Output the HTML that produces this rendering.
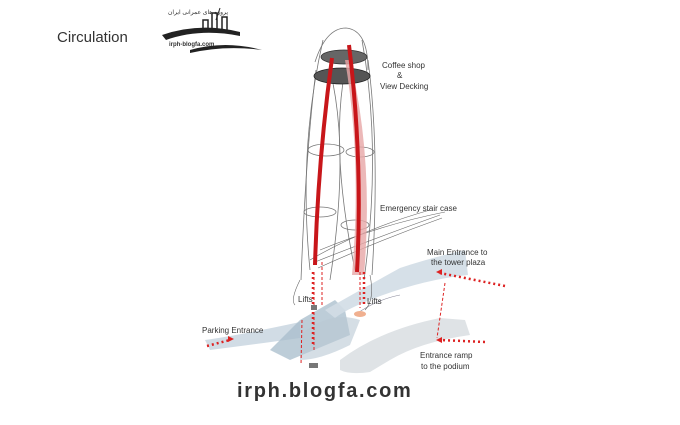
<!DOCTYPE html>
<html><head><meta charset="utf-8"><style>
body{margin:0;background:#fff}
svg{display:block}
text{font-family:"Liberation Sans",sans-serif;fill:#333}
</style></head><body>
<svg width="680" height="425" viewBox="0 0 680 425" xmlns="http://www.w3.org/2000/svg">
<text x="57" y="42" font-size="15" fill="#222">Circulation</text>
<g>
<path d="M162 35 Q200 22 240 32 L240 36 Q200 28 166 40 Z" fill="#222"/>
<path d="M190 50 Q225 40 262 50 Q225 45 190 53Z" fill="#222"/>
<rect x="203" y="20" width="5" height="10" fill="none" stroke="#222" stroke-width="1.5"/>
<rect x="212" y="13" width="5" height="17" fill="none" stroke="#222" stroke-width="1.5"/>
<rect x="222" y="17" width="5" height="14" fill="none" stroke="#222" stroke-width="1.5"/>
<line x1="220" y1="8" x2="216" y2="20" stroke="#222"/>
<text x="168" y="14" font-size="6" fill="#833">پروژه های عمرانی ایران</text>
<text x="169" y="46" font-size="6" fill="#833" font-weight="bold">irph-blogfa.com</text>
</g>
<path d="M205 340 Q240 335 300 322 L300 338 Q250 345 210 350Z" fill="#c9d6e0" opacity=".85"/>
<path d="M300 320 L335 300 L345 310 L350 335 L290 360 L270 350 Z" fill="#a7bccb" opacity=".75"/>
<path d="M325 310 Q360 290 400 268 Q430 258 465 250 L468 275 Q420 280 370 300 Q345 310 335 318 Z" fill="#d2dde5" opacity=".9"/>
<path d="M340 360 Q380 330 440 318 L465 320 L470 335 Q420 342 390 360 L370 372 Q350 375 340 370Z" fill="#dfe3e6"/>
<path d="M300 335 Q330 310 360 320 L350 345 Q320 360 300 360Z" fill="#b9c8d3" opacity=".6"/>
<path d="M355 315 Q375 300 400 295" fill="none" stroke="#889" stroke-width=".6"/>
<g fill="none" stroke="#777" stroke-width=".8">
<path d="M316 70 Q306 150 301 280"/><path d="M368 60 Q380 150 372 275"/>
<path d="M323 40 Q298 150 310 270"/><path d="M362 40 Q382 150 364 280"/>
<path d="M330 70 Q350 150 330 280"/><path d="M345 70 Q330 150 355 270"/>
<path d="M315 62 Q326 28 346 28 Q368 30 368 70"/>
<ellipse cx="326" cy="150" rx="18" ry="6"/><ellipse cx="360" cy="152" rx="14" ry="5"/>
<ellipse cx="320" cy="212" rx="16" ry="5"/><ellipse cx="355" cy="225" rx="14" ry="5"/>
</g>
<g fill="none" stroke="#666" stroke-width=".6">
<path d="M310 260 Q360 230 430 210"/><path d="M315 262 Q370 240 440 215"/><path d="M320 250 Q380 225 445 212"/><path d="M318 268 Q380 240 442 218"/>
<path d="M300 280 Q290 300 295 305"/><path d="M370 275 Q375 300 365 310"/>
</g>
<ellipse cx="344" cy="57" rx="23" ry="7" fill="#666" stroke="#333" stroke-width=".8"/>
<ellipse cx="342" cy="76" rx="28" ry="8" fill="#555" stroke="#222" stroke-width=".8"/>
<path d="M350 60 Q374 160 364 275 L352 275 Q362 160 345 60Z" fill="#e7a6a6" opacity=".8"/>
<path d="M332 58 Q318 160 315 265" fill="none" stroke="#c8161a" stroke-width="4"/>
<path d="M349 45 Q363 160 357 272" fill="none" stroke="#c8161a" stroke-width="4"/>
<g stroke="#d22" stroke-width="1" stroke-dasharray="3,2" fill="none">
<line x1="314" y1="272" x2="314" y2="350"/><line x1="322" y1="262" x2="322" y2="305"/>
<line x1="360" y1="272" x2="360" y2="308"/><line x1="302" y1="320" x2="301" y2="365"/>
<line x1="445" y1="283" x2="437" y2="338"/>
</g>
<g stroke="#d22" stroke-width="2.5" stroke-dasharray="2,3" fill="none">
<line x1="313" y1="272" x2="313" y2="345"/><line x1="364" y1="272" x2="364" y2="305"/>
<line x1="207" y1="346" x2="230" y2="340"/>
<line x1="505" y1="286" x2="440" y2="273"/>
<line x1="485" y1="342" x2="440" y2="340"/>
</g>
<g fill="#d22"><path d="M234 339 l-6 -3 l0 6Z"/><path d="M436 272 l6 -3 l0 6Z"/><path d="M436 340 l6 -3 l0 6Z"/></g>
<rect x="311" y="305" width="6" height="5" fill="#777"/>
<rect x="309" y="363" width="9" height="5" fill="#777"/>
<ellipse cx="360" cy="314" rx="6" ry="3" fill="#f0b090"/>
<g font-size="8">
<text x="382" y="68">Coffee shop</text>
<text x="397" y="78">&amp;</text>
<text x="380" y="89">View Decking</text>
<text x="380" y="211">Emergency stair case</text>
<text x="427" y="255">Main Entrance to</text>
<text x="431" y="265">the tower plaza</text>
<text x="298" y="302">Lifts</text>
<text x="367" y="304">Lifts</text>
<text x="202" y="333">Parking Entrance</text>
<text x="420" y="358">Entrance ramp</text>
<text x="421" y="369">to the podium</text>
</g>
<text x="237" y="397" font-size="20" font-weight="bold" fill="#000" style="letter-spacing:1.7px">irph.blogfa.com</text>
</svg>
</body></html>
